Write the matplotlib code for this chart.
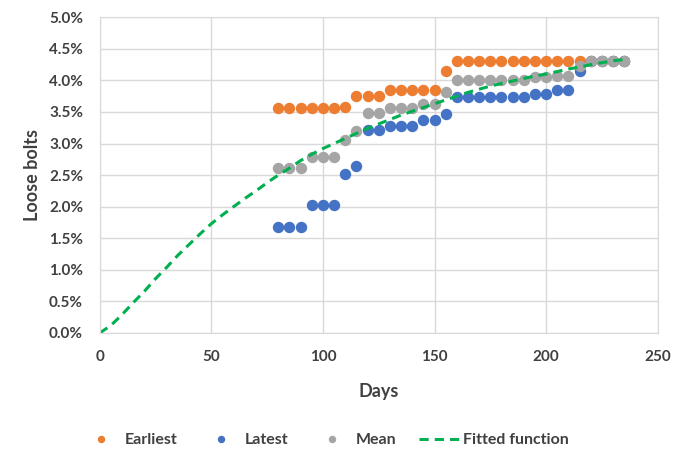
import matplotlib
matplotlib.use('Agg')
import matplotlib.pyplot as plt
from matplotlib.ticker import FuncFormatter, MultipleLocator

# Observation days and loose bolt share (in %)
days = [80, 85, 90, 95, 100, 105, 110, 115, 120, 125, 130, 135, 140, 145, 150,
        155, 160, 165, 170, 175, 180, 185, 190, 195, 200, 205, 210, 215,
        220, 225, 230, 235]
earliest = [3.56, 3.56, 3.56, 3.56, 3.56, 3.56, 3.58, 3.75, 3.75, 3.75, 3.85, 3.85,
            3.85, 3.85, 3.85, 4.15, 4.30, 4.30, 4.30, 4.30, 4.30, 4.30, 4.30, 4.30,
            4.30, 4.30, 4.30, 4.30, 4.30, 4.30, 4.30, 4.30]
latest = [1.67, 1.67, 1.67, 2.02, 2.02, 2.02, 2.52, 2.65, 3.21, 3.21, 3.28, 3.28,
          3.28, 3.38, 3.38, 3.47, 3.73, 3.73, 3.73, 3.73, 3.73, 3.73, 3.73, 3.79,
          3.79, 3.84, 3.84, 4.15, 4.30, 4.30, 4.30, 4.30]
mean = [2.61, 2.61, 2.61, 2.79, 2.79, 2.79, 3.06, 3.20, 3.48, 3.48, 3.57, 3.57,
        3.57, 3.62, 3.62, 3.81, 4.01, 4.01, 4.01, 4.01, 4.01, 4.01, 4.01, 4.05,
        4.05, 4.07, 4.07, 4.22, 4.30, 4.30, 4.30, 4.30]

# Fitted curve
fit_days = [0, 5, 10, 15, 20, 25, 30, 35, 40, 45, 50, 55, 60, 65, 70, 75, 80, 85,
            90, 95, 100, 105, 110, 115, 120, 125, 130, 135, 140, 145, 150, 155,
            160, 165, 170, 175, 180, 185, 190, 195, 200, 205, 210, 215, 220, 225,
            230, 235]
fit_vals = [0.00, 0.12, 0.29, 0.48, 0.66, 0.86, 1.04, 1.23, 1.40, 1.57, 1.73, 1.87,
            2.00, 2.13, 2.25, 2.38, 2.50, 2.61, 2.73, 2.83, 2.92, 3.00, 3.08, 3.16,
            3.24, 3.31, 3.38, 3.45, 3.51, 3.57, 3.63, 3.69, 3.75, 3.81, 3.86, 3.91,
            3.95, 3.99, 4.03, 4.07, 4.10, 4.14, 4.18, 4.21, 4.25, 4.28, 4.31, 4.33]

plt.rcParams['font.family'] = ['Lato', 'DejaVu Sans']

fig = plt.figure(figsize=(6.88, 4.53), dpi=100)
ax = fig.add_axes([0.145, 0.265, 0.811, 0.697])

ax.plot(days, earliest, 'o', color='#ED7D31', markersize=7.2, label='Earliest')
ax.plot(days, latest, 'o', color='#4472C4', markersize=7.2, label='Latest')
ax.plot(days, mean, 'o', color='#A5A5A5', markersize=7.2, label='Mean')
ax.plot(fit_days, fit_vals, color='#00B050', linestyle=(0, (3, 2)), linewidth=2.2,
        label='Fitted function')

ax.set_xlim(0, 250)
ax.set_ylim(0, 5)
ax.xaxis.set_major_locator(MultipleLocator(50))
ax.yaxis.set_major_locator(MultipleLocator(0.5))
ax.yaxis.set_major_formatter(FuncFormatter(lambda v, p: f'{v:.1f}%'))

ax.grid(True, color='#D9D9D9', linewidth=1)
ax.set_axisbelow(True)
for s in ax.spines.values():
    s.set_color('#D9D9D9')
ax.tick_params(length=0, labelsize=11, labelcolor='#404040', pad=12)
for lbl in ax.get_xticklabels() + ax.get_yticklabels():
    lbl.set_fontweight('bold')

ax.set_xlabel('Days', fontsize=13, fontweight='bold', color='#404040', labelpad=14)
ax.set_ylabel('Loose bolts', fontsize=13, fontweight='bold', color='#404040', labelpad=6)

leg = fig.legend(loc='center', bbox_to_anchor=(0.472, 0.028), ncol=4, frameon=False,
                 fontsize=11.5, markerscale=0.6, handlelength=2.6, columnspacing=1.4,
                 handletextpad=0.2)
for t in leg.get_texts():
    t.set_fontweight('bold')
    t.set_color('#404040')

plt.savefig('out.png', dpi=100)
plt.close()
